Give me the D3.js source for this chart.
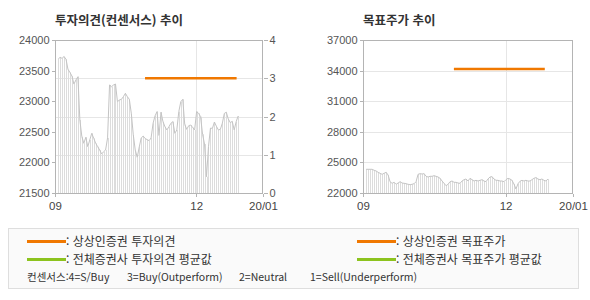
<!DOCTYPE html>
<html lang="ko">
<head>
<meta charset="UTF-8">
<title>투자의견 / 목표주가 추이</title>
<style>
  body { margin: 0; padding: 0; background: #fff; overflow: hidden; }
  svg { display: block; }
  .axis path, .axis line { stroke: #b4b4b4; shape-rendering: crispEdges; }
  .axis text { font-family: "Liberation Sans", Arial, sans-serif; font-size: 11px; fill: #555; }
  .grid line { stroke: #e6e6e6; shape-rendering: crispEdges; }
  .title { font-family: "Noto Sans CJK KR", sans-serif; font-size: 12.5px; font-weight: bold; fill: #333; }
  .legend text { font-family: "Noto Sans CJK KR", sans-serif; font-size: 12px; fill: #333; }
  .legend .note { font-family: "Noto Sans CJK KR", sans-serif; font-size: 10.5px; }
</style>
</head>
<body>
<script src="https://d3js.org/d3.v7.min.js"></script>
<script>
// ---- data ----
const parse = d3.timeParse("%Y-%m-%d");

// x axis: dates shown and their labels
const xDomain = ["2019-09-01", "2020-01-13"];
const xTickDates = ["2019-09-01", "2019-12-01", "2020-01-13"];
const xTickLabels = ["09", "12", "20/01"];
const priceStart = "2019-09-03";
const priceEnd = "2019-12-28";

// left chart: share price (left axis) and opinion (right axis)
const priceTicks = [21500, 22000, 22500, 23000, 23500, 24000];
const opinionTicks = [0, 1, 2, 3, 4];
const leftPrice = [
  23685, 23717, 23700, 23730, 23685, 23520, 23470, 23410, 23280, 23346,
  23400, 22693, 22420, 22312, 22410, 22257, 22366, 22475, 22394, 22312,
  22257, 22203, 22137, 22175, 22203, 22400, 23265, 23237, 23265, 23281,
  22992, 23020, 23031, 23074, 23129, 23074, 23031, 22800, 22450, 22200,
  22083, 22250, 22400, 22430, 22390, 22372, 22355, 22400, 22640, 22760,
  22830, 22440, 22820, 22666, 22583, 22530, 22583, 22639, 22666, 22475,
  22530, 22830, 22992, 23031, 22620, 22540, 22600, 22611, 22570, 22530,
  22830, 22802, 22747, 22460, 22300, 21767, 22257, 22560, 22557, 22660,
  22590, 22530, 22540, 22640, 22800, 22820, 22710, 22650, 22670, 22530,
  22666, 22758
];
const opinionDates = ["2019-10-29", "2019-12-27"];
const opinionValues = [3, 3];

// right chart: share price and target price
const targetTicks = [22000, 25000, 28000, 31000, 34000, 37000];
const rightPrice = [
  24324, 24324, 24324, 24324, 24226, 24157, 24029, 23931, 23833, 23931,
  24029, 23765, 23100, 22951, 23049, 22853, 22980, 23108, 22980, 22951,
  22912, 22853, 22814, 22853, 22912, 23108, 23833, 23892, 23863, 23892,
  23637, 23569, 23637, 23637, 23696, 23637, 23569, 23441, 23176, 22951,
  22716, 22853, 23108, 23176, 23049, 23049, 22980, 22951, 23176, 23304,
  23373, 23176, 23441, 23304, 23176, 23245, 23176, 23245, 23304, 23176,
  23108, 23373, 23569, 23598, 23373, 23245, 23245, 23176, 23176, 23108,
  23304, 23441, 23373, 23245, 22880, 22392, 22900, 23150, 23245, 23176,
  23245, 23176, 23176, 23304, 23441, 23510, 23373, 23304, 23373, 23245,
  23176, 23373
];
const targetDates = ["2019-10-29", "2019-12-26"];
const targetValues = [34150, 34150];

const ORANGE = "#f07800";
const GREEN = "#8cc31e";

const svg = d3.select("body").append("svg")
  .attr("width", 590)
  .attr("height", 300);

// one panel: price area with drop lines, grid, axes, title
function panel(opt) {
  const top = 40, bottom = 193;
  const x = d3.scaleTime()
    .domain(xDomain.map(parse))
    .range([opt.left, opt.left + opt.width]);
  const y = d3.scaleLinear().domain(d3.extent(opt.yTicks)).range([bottom, top]);
  const xi = d3.scaleLinear()
    .domain([0, opt.price.length - 1])
    .range([x(parse(priceStart)), x(parse(priceEnd))]);
  const g = svg.append("g");

  g.append("text").attr("class", "title")
    .attr("x", opt.left).attr("y", 25).text(opt.title);

  // grid
  const grid = g.append("g").attr("class", "grid");
  grid.selectAll("line.h").data(opt.gridValues).join("line")
    .attr("class", "h")
    .attr("x1", opt.left).attr("x2", opt.left + opt.width)
    .attr("y1", d => Math.round(opt.gridScale(d)) + 0.5)
    .attr("y2", d => Math.round(opt.gridScale(d)) + 0.5);
  grid.selectAll("line.v").data([xTickDates[1]]).join("line")
    .attr("class", "v")
    .attr("x1", d => Math.round(x(parse(d))) + 0.5)
    .attr("x2", d => Math.round(x(parse(d))) + 0.5)
    .attr("y1", top).attr("y2", bottom);

  // drop lines from each price point
  g.append("g").selectAll("line").data(opt.price).join("line")
    .attr("x1", (d, i) => Math.round(xi(i)) + 0.5)
    .attr("x2", (d, i) => Math.round(xi(i)) + 0.5)
    .attr("y1", d => y(d)).attr("y2", bottom)
    .attr("stroke", "#dcdcdc").attr("stroke-width", 1);

  // price line
  g.append("path").datum(opt.price)
    .attr("d", d3.line().x((d, i) => xi(i)).y(d => y(d)))
    .attr("fill", "none").attr("stroke", "#c4c4c4").attr("stroke-width", 1);

  // frame
  g.append("rect")
    .attr("x", opt.left + 0.5).attr("y", top + 0.5)
    .attr("width", opt.width - 1).attr("height", bottom - top)
    .attr("fill", "none").attr("stroke", "#b4b4b4")
    .attr("shape-rendering", "crispEdges");

  // left axis
  g.append("g").attr("class", "axis")
    .attr("transform", `translate(${opt.left + 0.5},0)`)
    .call(d3.axisLeft(y).tickValues(opt.yTicks).tickSize(4).tickPadding(2).tickFormat(d3.format("d")));

  // bottom axis
  const xa = g.append("g").attr("class", "axis")
    .attr("transform", `translate(0,${bottom + 0.5})`)
    .call(d3.axisBottom(x).tickValues(xTickDates.map(parse)).tickSize(3).tickPadding(5)
      .tickFormat((d, i) => xTickLabels[i]));
  xa.selectAll("text").style("font-size", "11.5px").style("fill", "#444");

  g.selectAll(".axis .domain").remove();
  return { x, y, g };
}

// left panel
const left = panel({
  left: 55, width: 208,
  title: "투자의견(컨센서스) 추이",
  yTicks: priceTicks, price: leftPrice,
  gridValues: [1, 2, 3],
  gridScale: d3.scaleLinear().domain(d3.extent(opinionTicks)).range([193, 40])
});
const yOpinion = d3.scaleLinear().domain(d3.extent(opinionTicks)).range([193, 40]);
left.g.append("g").attr("class", "axis")
  .attr("transform", "translate(263.5,0)")
  .call(d3.axisRight(yOpinion).tickValues(opinionTicks).tickSize(4).tickPadding(2)
    .tickFormat(d3.format("d")))
  .select(".domain").remove();
left.g.append("path")
  .datum(opinionDates.map((d, i) => [parse(d), opinionValues[i]]))
  .attr("d", d3.line().x(d => left.x(d[0])).y(d => yOpinion(d[1])))
  .attr("stroke", ORANGE).attr("stroke-width", 2.5).attr("fill", "none");

// right panel
const right = panel({
  left: 363, width: 210,
  title: "목표주가 추이",
  yTicks: targetTicks, price: rightPrice,
  gridValues: targetTicks.slice(1, -1),
  gridScale: d3.scaleLinear().domain(d3.extent(targetTicks)).range([193, 40])
});
right.g.append("path")
  .datum(targetDates.map((d, i) => [parse(d), targetValues[i]]))
  .attr("d", d3.line().x(d => right.x(d[0])).y(d => right.y(d[1])))
  .attr("stroke", ORANGE).attr("stroke-width", 2.5).attr("fill", "none");

// legend box
const lg = svg.append("g").attr("class", "legend");
lg.append("rect")
  .attr("x", 8.5).attr("y", 228.5).attr("width", 570).attr("height", 60)
  .attr("fill", "#fafafa").attr("stroke", "#dedede");

const legendItems = [
  { x: 27, y: 241.5, color: ORANGE, label: ": 상상인증권 투자의견" },
  { x: 27, y: 259.5, color: GREEN, label: ": 전체증권사 투자의견 평균값" },
  { x: 357, y: 241.5, color: ORANGE, label: ": 상상인증권 목표주가" },
  { x: 357, y: 259.5, color: GREEN, label: ": 전체증권사 목표주가 평균값" }
];
legendItems.forEach(it => {
  lg.append("line")
    .attr("x1", it.x).attr("x2", it.x + 39)
    .attr("y1", it.y).attr("y2", it.y)
    .attr("stroke", it.color).attr("stroke-width", 3);
  lg.append("text").attr("x", it.x + 39).attr("y", it.y + 4.5).text(it.label);
});

const noteParts = ["컨센서스:4=S/Buy", "3=Buy(Outperform)", "2=Neutral", "1=Sell(Underperform)"];
const noteX = [27, 127, 239, 310];
lg.selectAll("text.note").data(noteParts).join("text")
  .attr("class", "note")
  .attr("x", (d, i) => noteX[i]).attr("y", 281)
  .text(d => d);
</script>
</body>
</html>
